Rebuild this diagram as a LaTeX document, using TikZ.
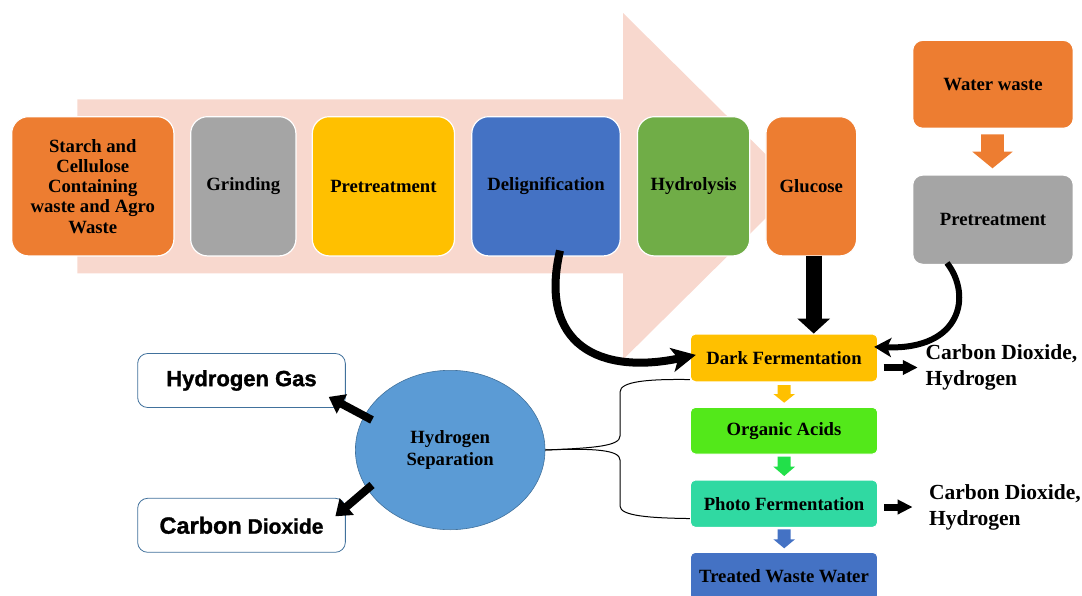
\documentclass[tikz,border=0pt]{standalone}
\usepackage{fontspec}
\setmainfont{Liberation Serif}
\newfontfamily\sansfnt[BoldFeatures={FakeBold=1.2}]{Liberation Sans}
\usetikzlibrary{arrows.meta,shapes.geometric,calc}
\definecolor{cOrange}{HTML}{ED7D31}
\definecolor{cGray}{HTML}{A5A5A5}
\definecolor{cGold}{HTML}{FFC000}
\definecolor{cBlue}{HTML}{4472C4}
\definecolor{cGreen}{HTML}{70AD47}
\definecolor{cPink}{HTML}{F8D8CE}
\definecolor{cLime}{HTML}{53E81A}
\definecolor{cTeal}{HTML}{30D9A2}
\definecolor{cArrowGreen}{HTML}{22E04A}
\definecolor{cSky}{HTML}{5B9BD5}
\definecolor{cEdge}{HTML}{41719C}
\newcommand\boxlbl{\bfseries\fontsize{18.7}{20.3}\selectfont}
\newcommand\blockdown[7]{\fill[#1] (#2-#3,#5) -- (#2+#3,#5) -- (#2+#3,#6) -- (#2+#4,#6) -- (#2,#7) -- (#2-#4,#6) -- (#2-#3,#6) -- cycle;}
\begin{document}
\begin{tikzpicture}[x=1pt,y=-1pt,
  topbox/.style={draw=white, line width=1.2pt, rounded corners=17pt, align=center, inner sep=0pt, font=\boxlbl, minimum height=139.3pt},
  sidebox/.style={draw=white, line width=1.2pt, rounded corners=10pt, align=center, inner sep=0pt, font=\boxlbl, minimum width=160.6pt},
  colbox/.style={draw=white, line width=1pt, rounded corners=5pt, align=center, inner sep=0pt, font=\boxlbl, minimum width=187.3pt},
  outbox/.style={draw=cEdge, line width=0.8pt, rounded corners=10pt, fill=white, inner sep=0pt, minimum width=207.7pt, minimum height=54pt},
  gastext/.style={font=\bfseries\fontsize{21.5}{26}\selectfont, align=left, anchor=west, inner sep=0pt},
  sidearrow/.style={draw=black, line width=7pt, -{Triangle[length=15pt,width=14pt]}},
  sepArrow/.style={draw=black, line width=8pt, -{Triangle[length=15pt,width=21pt]}},
  braceline/.style={draw=black, line width=1pt},
]
\useasboundingbox (0,0) rectangle (1082,595);
% big background arrow
\fill[cPink] (77.3,99.3) -- (623,99.3) -- (623,13) -- (798,186.3) -- (623,359.6) -- (623,273.3) -- (77.3,273.3) -- cycle;

% top row
\node[topbox, fill=cOrange, minimum width=162.3pt] (starch) at (92.8,186.3) {Starch and\\Cellulose\\Containing\\waste and Agro\\Waste};
\node[topbox, fill=cGray, minimum width=105.3pt] (grind) at (243.3,186.3) {Grinding};
\node[topbox, fill=cGold, minimum width=142.2pt] (pre1) at (383.4,186.3) {Pretreatment};
\node[topbox, fill=cBlue, minimum width=148.4pt] (delig) at (546,186.3) {Delignification};
\node[topbox, fill=cGreen, minimum width=112.3pt] (hydro) at (693.6,186.3) {Hydrolysis};
\node[topbox, fill=cOrange, minimum width=90.7pt] (gluc) at (811.3,186.3) {Glucose};

% right column
\node[sidebox, fill=cOrange, minimum height=88pt] (ww) at (993,84.3) {Water waste};
\node[sidebox, fill=cGray, minimum height=89.3pt] (pre2) at (993,219.7) {Pretreatment};
\blockdown{cOrange}{992.5}{11.35}{20.2}{134.3}{151.7}{168.3}

% fermentation column
\node[colbox, fill=cGold, minimum height=47.7pt] (dark) at (784,357.9) {Dark Fermentation};
\node[colbox, fill=cLime, minimum height=46.7pt] (org) at (784,430.7) {Organic Acids};
\node[colbox, fill=cTeal, minimum height=47.3pt] (photo) at (784,503.7) {Photo Fermentation};
\node[colbox, fill=cBlue, minimum height=48pt] (treated) at (784,576.3) {Treated Waste Water};
\blockdown{cGold}{784.2}{6.5}{10.8}{385}{394}{402.7}
\blockdown{cArrowGreen}{784.2}{6.5}{10.8}{456.7}{466.7}{476}
\blockdown{cBlue}{784.2}{6.5}{10.8}{529.3}{539.3}{548.3}

\node[gastext] (co2a) at (925.4,367.5) {Carbon Dioxide,\\Hydrogen};
\node[gastext] (co2b) at (928.9,507) {Carbon Dioxide,\\Hydrogen};

% separation
\node[ellipse, fill=cSky, draw=cEdge, line width=0.6pt, minimum width=189.6pt, minimum height=159.4pt, inner sep=0pt, align=center, font=\bfseries\fontsize{18.7}{22.7}\selectfont] (sep) at (450.2,450) {Hydrogen\\Separation};
\node[outbox, font=\sansfnt\bfseries\fontsize{22}{26}\selectfont] (hgas) at (241.5,380.5) {Hydrogen Gas};
\node[outbox, font=\sansfnt\bfseries\fontsize{21}{26}\selectfont] (cdo) at (241.5,525.3) {{\fontsize{23.5}{26}\selectfont Carbon} Dioxide};

% connectors
\draw[line width=16pt, -{Triangle[length=15pt,width=32pt]}] ([xshift=2.4pt,yshift=1pt]gluc.south) -- ([xshift=2.4pt]gluc.south |- dark.north);
\draw[line width=8pt, -{Stealth[length=24pt,width=24pt,inset=6pt]}] ([xshift=14pt,yshift=6pt]delig.south) .. controls (538,345) and (600,375) .. ([xshift=6pt,yshift=3pt]dark.west);
\draw[line width=6pt, -{Stealth[length=17pt,width=19pt,inset=4pt]}] ([xshift=-46pt,yshift=2pt]pre2.south) .. controls (972,295) and (962,350) .. ([xshift=-4pt,yshift=11pt]dark.east);
\draw[sidearrow] ([xshift=5.5pt]dark.east |- co2a.west) -- ([xshift=-7.6pt]co2a.west);
\draw[sidearrow] ([xshift=6.3pt]photo.east |- co2b.west) -- ([xshift=-16.3pt]co2b.west);
\draw[sepArrow] ($(sep.center)+(-78.2,-30)$) -- ($(hgas.south east)+(-17.1,-11)$);
\draw[sepArrow] ($(sep.center)+(-78.2,35)$) -- ($(cdo.north east)+(-10.4,18.4)$);
\draw[braceline] (sep.east) .. controls (595,448) and (620,446) .. (620,436) -- (620,392) .. controls (620,381) and (650,379) .. ([yshift=2.7pt]dark.south west);
\draw[braceline] (sep.east) .. controls (595,448) and (620,450) .. (620,460) -- (620,506) .. controls (620,516) and (650,518) .. ([yshift=9.3pt]photo.south west);
\end{tikzpicture}
\end{document}
